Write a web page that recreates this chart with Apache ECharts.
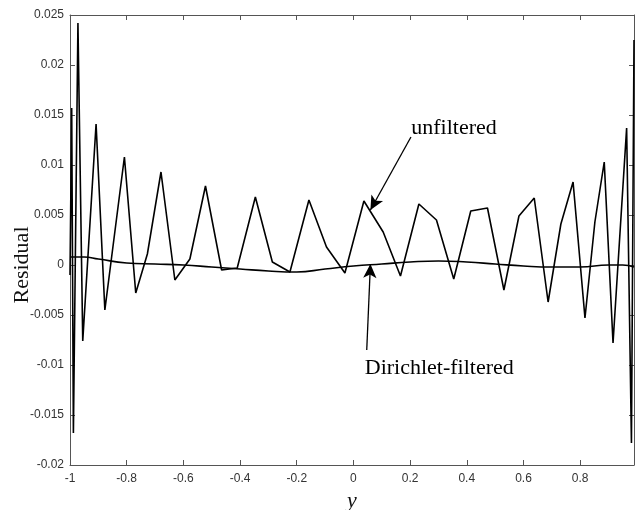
<!DOCTYPE html>
<html><head><meta charset="utf-8">
<script src="https://cdn.jsdelivr.net/npm/echarts@6/dist/echarts.min.js"></script>
<style>html,body{margin:0;padding:0;background:#fff}#c{width:635px;height:510px}</style>
</head><body><div id="c"></div>
<script>
// unfiltered residual (y, residual)
const unfX = [-1.000,-0.994,-0.988,-0.972,-0.955,-0.908,-0.877,-0.808,-0.768,-0.727,-0.679,-0.630,-0.577,-0.522,-0.465,-0.410,-0.346,-0.286,-0.224,-0.157,-0.095,-0.030,0.037,0.105,0.166,0.231,0.293,0.354,0.414,0.473,0.531,0.584,0.638,0.687,0.732,0.775,0.817,0.852,0.885,0.916,0.964,0.981,0.990];
const unfY = [-0.0010,0.0157,-0.0168,0.0242,-0.0076,0.0141,-0.0045,0.0108,-0.0028,0.0011,0.0093,-0.0015,0.0006,0.0079,-0.0005,-0.0003,0.0068,0.0003,-0.0007,0.0065,0.0018,-0.0008,0.0064,0.0033,-0.0011,0.0061,0.0045,-0.0014,0.0054,0.0057,-0.0025,0.0049,0.0067,-0.0037,0.0041,0.0083,-0.0053,0.0043,0.0103,-0.0078,0.0137,-0.0178,0.0225];
// Dirichlet-filtered residual
const filX = [-1,-0.95,-0.9,-0.8,-0.7,-0.6,-0.5,-0.4,-0.3,-0.2,-0.1,0,0.1,0.2,0.3,0.4,0.5,0.6,0.7,0.8,0.9,0.95,0.99];
const filY = [0.0008,0.0008,0.0006,0.0002,0.0001,0.0000,-0.0002,-0.0004,-0.0006,-0.0007,-0.0004,-0.0001,0.0001,0.0003,0.0004,0.0003,0.0001,-0.0001,-0.0002,-0.0002,0.0000,0.0000,-0.0002];
// axis settings
const xMin = -1, xMax = 0.99, xStep = 0.2;
const yMin = -0.02, yMax = 0.025, yStep = 0.005;
const yTitle = 'Residual';
// annotations (data coordinates)
const annUnfText = {text:'unfiltered', x:0.355, y:0.0137};
const annUnfArrow = [[0.203,0.0128],[0.060,0.0055]];
const annDirText = {text:'Dirichlet-filtered', x:0.303, y:-0.0103};
const annDirArrow = [[0.047,-0.0085],[0.060,0.0001]];

const zip = (a,b)=>a.map((v,i)=>[v,b[i]]);
const axisCol = '#555';
const lblStyle = {color:'#333', fontSize:12, fontFamily:'Liberation Sans, Arial, sans-serif'};
const serif = 'Liberation Serif, Times New Roman, serif';

const chart = echarts.init(document.getElementById('c'), null, {renderer:'canvas'});
const baseX = {type:'value', min:xMin, max:xMax, interval:xStep,
  axisLine:{show:true, onZero:false, lineStyle:{color:axisCol,width:1}},
  axisTick:{show:true, inside:true, length:5, lineStyle:{color:axisCol}},
  splitLine:{show:false}};
const baseY = {type:'value', min:yMin, max:yMax, interval:yStep,
  axisLine:{show:true, onZero:false, lineStyle:{color:axisCol,width:1}},
  axisTick:{show:true, inside:true, length:5, lineStyle:{color:axisCol}},
  splitLine:{show:false}};
chart.setOption({
  animation:false,
  backgroundColor:'#fff',
  grid:{left:70, top:15, width:564, height:450, containLabel:false, outerBoundsMode:'none'},
  graphic:[{type:'text', x:22, y:265, rotation:Math.PI/2, silent:true,
    style:{text:yTitle, fill:'#111', font:'22px ' + serif, align:'center', verticalAlign:'middle'}}],
  xAxis:[
    Object.assign({}, baseX, {position:'bottom',
      axisLabel:Object.assign({margin:8, showMaxLabel:false}, lblStyle),
      name:'y', nameLocation:'middle', nameGap:24,
      nameTextStyle:{fontFamily:serif, fontStyle:'italic', fontSize:22, color:'#111'}}),
    Object.assign({}, baseX, {position:'top', axisLabel:{show:false}})
  ],
  yAxis:[
    Object.assign({}, baseY, {position:'left',
      axisLabel:Object.assign({margin:6}, lblStyle)}),
    Object.assign({}, baseY, {position:'right', axisLabel:{show:false}})
  ],
  series:[
    {type:'line', data:zip(unfX,unfY), showSymbol:false, symbol:'none',
     lineStyle:{color:'#000', width:1.6}, z:3,
     markLine:{silent:true, symbol:['none','arrow'], symbolSize:[10,14], animation:false,
       lineStyle:{color:'#000', width:1.3, type:'solid'}, label:{show:false},
       data:[
         [{coord:annUnfArrow[0]},{coord:annUnfArrow[1]}],
         [{coord:annDirArrow[0]},{coord:annDirArrow[1]}]
       ]},
     markPoint:{silent:true, symbol:'circle', symbolSize:0, animation:false,
       label:{show:true, position:'inside', color:'#000', fontFamily:serif, fontSize:22,
         formatter:p=>p.name},
       data:[
         {name:annUnfText.text, coord:[annUnfText.x, annUnfText.y]},
         {name:annDirText.text, coord:[annDirText.x, annDirText.y]}
       ]}
    },
    {type:'line', data:zip(filX,filY), showSymbol:false, symbol:'none', smooth:true,
     lineStyle:{color:'#000', width:1.6}, z:2}
  ]
});
</script></body></html>
